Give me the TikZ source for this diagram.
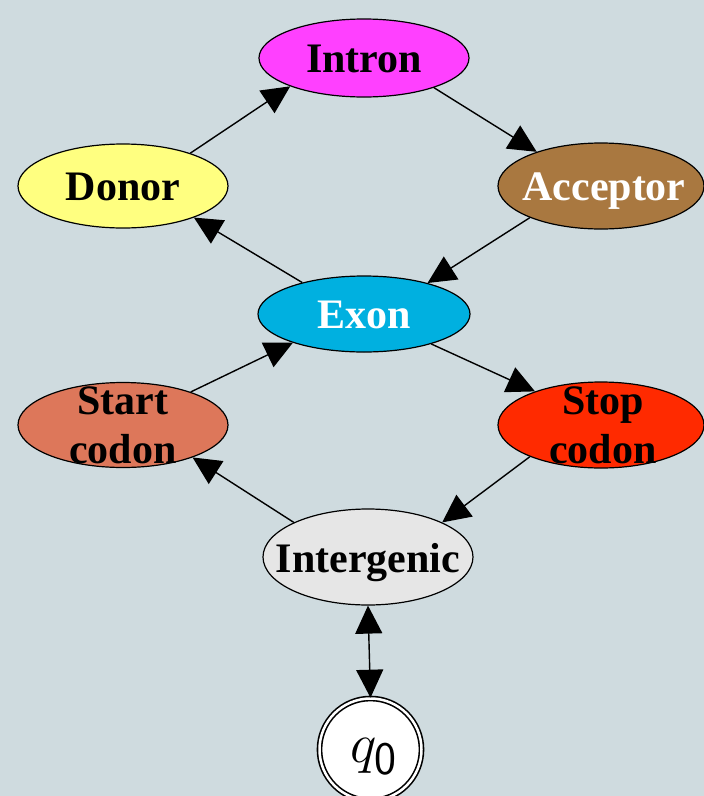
\documentclass[tikz,border=0pt]{standalone}
\usepackage{fontspec}
\setmainfont{Liberation Serif}
\usetikzlibrary{shapes.geometric,arrows.meta}
\definecolor{bgc}{RGB}{207,219,223}
\definecolor{intronc}{RGB}{255,64,255}
\definecolor{donorc}{RGB}{255,255,128}
\definecolor{acceptorc}{RGB}{169,120,64}
\definecolor{exonc}{RGB}{0,176,224}
\definecolor{startc}{RGB}{221,119,90}
\definecolor{stopc}{RGB}{255,42,0}
\definecolor{intergc}{RGB}{230,230,230}
\begin{document}
\begin{tikzpicture}[x=1pt,y=-1pt,
  st/.style={ellipse, draw=black, line width=1.2pt, inner sep=0pt, minimum width=210pt, minimum height=84pt},
  lbl/.style={font=\fontsize{42}{49}\selectfont\bfseries, align=center, inner sep=0pt},
  one/.style={lbl, anchor=base},
  tip/.tip={Triangle[length=28pt,width=27pt]},
  edge/.style={line width=1.4pt, -tip}]
\fill[bgc] (0,0) rectangle (704,796);
\useasboundingbox (0,0) rectangle (704,796);

\node[st, fill=intronc, minimum height=78pt] (intron) at (364,58) {};
\node[one] (intronT) at (364,72) {Intron};
\node[st, fill=donorc] (donor) at (123,186) {};
\node[one] (donorT) at (123,200) {Donor};
\node[st, fill=acceptorc, minimum width=206pt, minimum height=86pt] (acceptor) at (601,186) {};
\node[one, text=white] (acceptorT) at (604,200) {Acceptor};
\node[st, fill=exonc, minimum width=212pt, minimum height=76pt] (exon) at (364,314) {};
\node[one, text=white] (exonT) at (364,328) {Exon};
\node[st, fill=startc, minimum height=85pt] (start) at (123,425) {};
\node[lbl] (startT) at (123,425) {Start\\codon};
\node[st, fill=stopc, minimum width=206pt, minimum height=86pt] (stop) at (601,425) {};
\node[lbl] (stopT) at (603,425) {Stop\\codon};
\node[st, fill=intergc, minimum height=96pt] (interg) at (368,557) {};
\node[one] (intergT) at (368,572) {Intergenic};
\node[circle, draw=black, fill=white, double=white, double distance=2.5pt, line width=1.6pt, minimum size=102pt, inner sep=0pt] (q0) at (370.5,749.5) {};
\node[anchor=base, inner sep=0pt, font=\Huge] (q0T) at (374,762) {\scalebox{2.25}{$q_{\mathsf{0}}$}};

\draw[edge] (donor.26.6) -- (intron.201.5);
\draw[edge] (intron.337.4) -- (acceptor.152.8);
\draw[edge] (acceptor.204) -- (exon.26.6);
\draw[edge] (exon.153.4) -- (donor.336.6);
\draw[edge] (start.26.6) -- (exon.202.2);
\draw[edge] (exon.336.7) -- (stop.153.4);
\draw[edge] (stop.204.7) -- (interg.25);
\draw[edge] (interg.155) -- (start.335.6);
\draw[line width=1.4pt, tip-tip] (interg.south) -- (q0.north);
\end{tikzpicture}
\end{document}
